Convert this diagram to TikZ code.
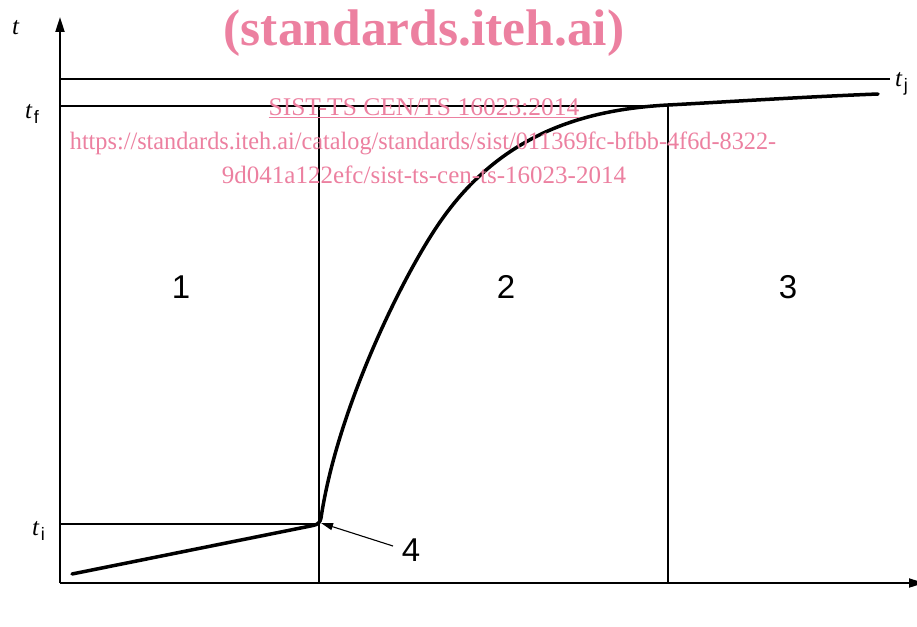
\documentclass[tikz,border=0pt]{standalone}
\usepackage{fontspec}
\setmainfont{Liberation Serif}
\newfontfamily\arialf{Liberation Sans}
\usetikzlibrary{arrows.meta}
\definecolor{wm}{RGB}{236,128,160}
\tikzset{
  thinln/.style={line width=1.1pt},
  axisln/.style={line width=2pt},
  curveln/.style={line width=3.5pt, line join=round, line cap=round},
  region/.style={font=\arialf\fontsize{33}{33}\selectfont, inner sep=0pt},
  tlab/.style={inner sep=0pt, anchor=base west},
  wmtext/.style={text=wm, inner sep=0pt}
}
\newcommand{\tsub}[1]{{\fontsize{25}{25}\selectfont\itshape t}\,{\arialf\fontsize{18}{18}\selectfont\raisebox{-5pt}{#1}}}
\begin{document}
\begin{tikzpicture}[x=1pt,y=-1pt]
\useasboundingbox (0,0) rectangle (917,626);
% coordinates
\coordinate (O) at (60,583);
\coordinate (ytop) at (60,17);
\coordinate (xend) at (924,583);
\coordinate (tjL) at (60,79);
\coordinate (tjR) at (890,79);
\coordinate (tfL) at (60,106);
\coordinate (tfR) at (668,106);
\coordinate (tiL) at (60,524);
\coordinate (tiR) at (319,524);
\coordinate (v1t) at (319,106);
\coordinate (v1b) at (319,583);
\coordinate (v2t) at (668,106);
\coordinate (v2b) at (668,583);
\coordinate (kink) at (321,523);
% thin lines
\draw[thinln] (tjL) -- (tjR);
\draw[thinln] (tfL) -- (tfR);
\draw[thinln] (tiL) -- (tiR);
\draw[thinln] (v1t) -- (v1b);
\draw[thinln] (v2t) -- (v2b);
% axes
\draw[axisln,-{Triangle[length=15pt,width=9pt]}] (O) -- (ytop);
\draw[axisln,-{Triangle[length=15pt,width=9pt]}] (O) -- (xend);
% curve
\draw[curveln] (72,574) -- (313,525.5) .. controls (318,524.5) and (320,522.5) .. (321,518)
  .. controls (337.5,408) and (403,275.3) .. (440,222)
  .. controls (494,144) and (568,110.2) .. (668,105)
  .. controls (720,102.3) and (800,97) .. (878,94);
% labels
\node[region] (r1) at (181,287) {1};
\node[region] (r2) at (506,287) {2};
\node[region] (r3) at (788,287) {3};
\node[region] (r4) at (411,550) {4};
\coordinate (r4s) at (393,546);
\draw[line width=1.1pt,-{Triangle[length=12pt,width=7pt]}] (r4s) -- (kink);
\node[tlab] (tt) at (12,35) {\fontsize{25}{25}\selectfont\itshape t};
\node[tlab] (tf) at (25,118) {\tsub{f}};
\node[tlab] (ti) at (32,535) {\tsub{i}};
\node[tlab] (tj) at (895,86) {\tsub{j}};
% watermark
\node[wmtext, font=\fontsize{51.5}{51.5}\selectfont\bfseries] (wm1) at (424,33) {(standards.iteh.ai)};
\node[wmtext, font=\fontsize{25.5}{25.5}\selectfont] (wm2) at (424,108) {\underline{SIST-TS CEN/TS 16023:2014}};
\node[wmtext, font=\fontsize{25}{25}\selectfont, xscale=0.97] (wm3) at (423,143) {https://standards.iteh.ai/catalog/standards/sist/011369fc-bfbb-4f6d-8322-};
\node[wmtext, font=\fontsize{25}{25}\selectfont] (wm4) at (424,175) {9d041a122efc/sist-ts-cen-ts-16023-2014};
\end{tikzpicture}
\end{document}
